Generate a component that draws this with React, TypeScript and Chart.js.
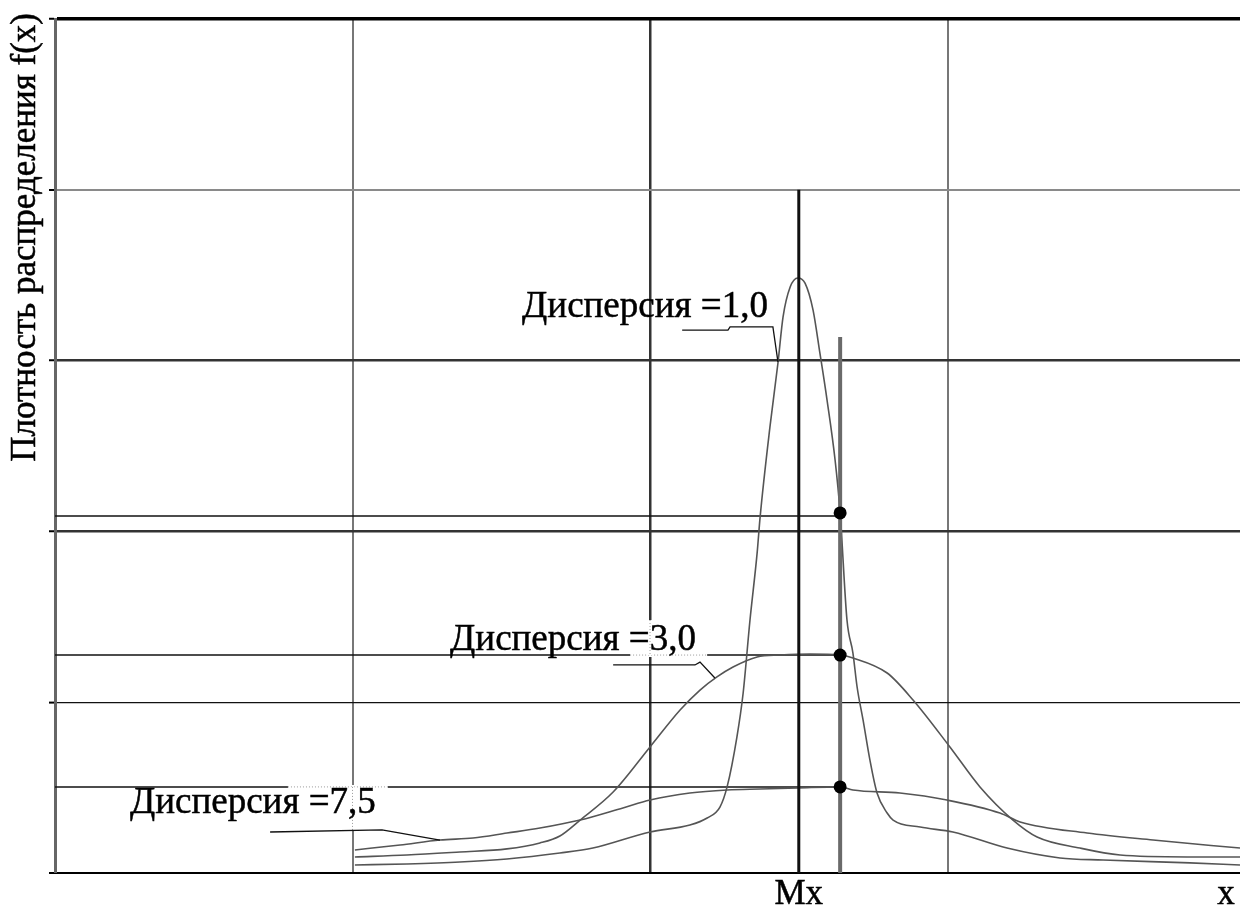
import React, { useEffect, useRef } from "react";
import { Chart, registerables } from "chart.js";

Chart.register(...registerables);

// ---- axis ranges and grid ----
const X_MIN = 0;
const X_MAX = 3.983;
const Y_MIN = 0;
const Y_MAX = 5;
const X_GRID = [0, 1, 2, 3];
const X_GRID_COLORS = ["rgba(0,0,0,0)", "#777777", "#333333", "#777777"];
const X_GRID_WIDTHS = [0, 2, 2.5, 2];
const Y_GRID_COLORS = ["rgba(0,0,0,0)", "#111111", "#333333", "#333333", "#8a8a8a", "#000000"];
const Y_GRID_WIDTHS = [0, 1.2, 2.5, 2.5, 2, 3.5];

// ---- curve: Дисперсия = 1,0 ----
const curve1X = [1.008, 1.183, 1.361, 1.519, 1.697, 1.808, 2.0, 2.134, 2.192, 2.235, 2.259, 2.292, 2.313, 2.336, 2.36, 2.37, 2.403, 2.43, 2.447, 2.471, 2.497, 2.521, 2.548, 2.571, 2.595, 2.622, 2.639, 2.662, 2.682, 2.696, 2.716, 2.739, 2.763, 2.797, 2.817, 2.908, 3.018, 3.2, 3.378, 3.523, 3.815, 3.983];
const curve1Y = [0.047, 0.053, 0.064, 0.082, 0.117, 0.146, 0.24, 0.281, 0.322, 0.386, 0.504, 0.796, 1.054, 1.481, 1.874, 2.084, 2.611, 2.986, 3.255, 3.431, 3.484, 3.454, 3.296, 3.044, 2.769, 2.418, 2.108, 1.481, 1.288, 1.089, 0.896, 0.662, 0.468, 0.351, 0.31, 0.269, 0.24, 0.146, 0.088, 0.076, 0.059, 0.047];

// ---- curve: Дисперсия = 3,0 ----
const curve3X = [1.008, 1.183, 1.361, 1.519, 1.63, 1.697, 1.765, 1.876, 2.0, 2.101, 2.168, 2.225, 2.279, 2.36, 2.437, 2.538, 2.639, 2.682, 2.797, 2.884, 3.008, 3.109, 3.22, 3.301, 3.445, 3.58, 3.805, 3.983];
const curve3Y = [0.094, 0.105, 0.123, 0.141, 0.176, 0.217, 0.31, 0.474, 0.738, 0.954, 1.071, 1.148, 1.206, 1.265, 1.276, 1.282, 1.276, 1.259, 1.171, 1.013, 0.738, 0.504, 0.31, 0.211, 0.146, 0.105, 0.094, 0.094];

// ---- curve: Дисперсия = 7,5 ----
const curve75X = [1.008, 1.16, 1.294, 1.405, 1.519, 1.63, 1.765, 1.909, 2.0, 2.134, 2.259, 2.37, 2.497, 2.639, 2.682, 2.84, 2.998, 3.176, 3.244, 3.469, 3.691, 3.983];
const curve75Y = [0.135, 0.164, 0.193, 0.205, 0.234, 0.263, 0.31, 0.381, 0.427, 0.468, 0.486, 0.492, 0.498, 0.504, 0.486, 0.468, 0.427, 0.351, 0.299, 0.234, 0.193, 0.146];

// ---- reference lines and markers ----
const MX_VALUE = 2.5;
const MX_TOP = 4.0;
const MARKER_X = 2.639;
const MARKER_TOP = 3.138;
const LEVEL_LINES = [2.09, 1.276, 0.504];
const DOT_VALUES = [2.108, 1.276, 0.504];

// ---- annotation labels ----
const LABEL_TEXTS = ["Дисперсия =1,0", "Дисперсия =3,0", "Дисперсия =7,5"];
const LABEL_X = [1.57, 1.328, 0.252];
const LABEL_Y = [3.255, 1.306, 0.351];
const LEADER1_X = [2.108, 2.262, 2.269, 2.413, 2.43];
const LEADER1_Y = [3.179, 3.179, 3.197, 3.197, 2.992];
const LEADER2_X = [1.876, 2.151, 2.168, 2.218];
const LEADER2_Y = [1.218, 1.218, 1.235, 1.142];
const LEADER3_X = [0.723, 1.099, 1.294];
const LEADER3_Y = [0.24, 0.252, 0.193];

// label selection-frame remnants (dotted segments over lines)
const DOTTED_SEG_X1 = [1.933, 2.0, 0.783, 1.0];
const DOTTED_SEG_Y1 = [1.276, 1.481, 0.504, 0.504];
const DOTTED_SEG_X2 = [2.192, 2.0, 1.119, 1.0];
const DOTTED_SEG_Y2 = [1.276, 1.276, 0.504, 0.252];

const Y_TITLE = "Плотность распределения f(x)";
const X_LABELS = ["Mx", "x"];
const X_LABEL_VALUES = [2.5, 3.936];

const FONT = '"Liberation Serif", "Times New Roman", serif';

const zip = (xs: number[], ys: number[]) => xs.map((x, i) => ({ x, y: ys[i] }));

const drawText = (ctx: any, t: string, x: number, y: number) => {
  ctx.fillText(t, x, y);
  ctx.strokeText(t, x, y);
};

const annotationPlugin = {
  id: "annotations",
  afterDatasetsDraw(chart: any) {
    const { ctx, scales, chartArea } = chart;
    const sx = (v: number) => scales.x.getPixelForValue(v);
    const sy = (v: number) => scales.y.getPixelForValue(v);
    ctx.save();

    // dotted selection-frame remnants
    for (let i = 0; i < DOTTED_SEG_X1.length; i++) {
      ctx.beginPath();
      ctx.strokeStyle = "#ffffff";
      ctx.lineWidth = 4;
      ctx.moveTo(sx(DOTTED_SEG_X1[i]), sy(DOTTED_SEG_Y1[i]));
      ctx.lineTo(sx(DOTTED_SEG_X2[i]), sy(DOTTED_SEG_Y2[i]));
      ctx.stroke();
      ctx.beginPath();
      ctx.setLineDash([1, 2]);
      ctx.strokeStyle = "#9a9a9a";
      ctx.lineWidth = 1;
      ctx.moveTo(sx(DOTTED_SEG_X1[i]), sy(DOTTED_SEG_Y1[i]));
      ctx.lineTo(sx(DOTTED_SEG_X2[i]), sy(DOTTED_SEG_Y2[i]));
      ctx.stroke();
      ctx.setLineDash([]);
    }

    // leader lines
    const leaders: [number[], number[]][] = [
      [LEADER1_X, LEADER1_Y],
      [LEADER2_X, LEADER2_Y],
      [LEADER3_X, LEADER3_Y],
    ];
    ctx.strokeStyle = "#111111";
    ctx.lineWidth = 1.3;
    for (const [lx, ly] of leaders) {
      ctx.beginPath();
      lx.forEach((v, i) => {
        if (i === 0) ctx.moveTo(sx(v), sy(ly[i]));
        else ctx.lineTo(sx(v), sy(ly[i]));
      });
      ctx.stroke();
    }

    // labels
    ctx.fillStyle = "#000000";
    ctx.strokeStyle = "#000000";
    ctx.lineWidth = 0.5;
    ctx.font = `37px ${FONT}`;
    ctx.textAlign = "left";
    ctx.textBaseline = "alphabetic";
    LABEL_TEXTS.forEach((t, i) => {
      drawText(ctx, t, sx(LABEL_X[i]), sy(LABEL_Y[i]));
    });

    // x-axis labels
    ctx.font = `35px ${FONT}`;
    ctx.textAlign = "center";
    X_LABELS.forEach((t, i) => {
      drawText(ctx, t, sx(X_LABEL_VALUES[i]), chartArea.bottom + 31);
    });

    // y title
    ctx.font = `35px ${FONT}`;
    ctx.translate(35, chartArea.top - 6);
    ctx.rotate(-Math.PI / 2);
    ctx.textAlign = "right";
    ctx.textBaseline = "alphabetic";
    drawText(ctx, Y_TITLE, 0, 0);
    ctx.restore();
  },
};

export default function App() {
  const canvasRef = useRef<HTMLCanvasElement | null>(null);

  useEffect(() => {
    if (!canvasRef.current) return;
    const curveStyle = {
      showLine: true,
      borderColor: "#555555",
      borderWidth: 1.6,
      pointRadius: 0,
      fill: false,
      cubicInterpolationMode: "monotone" as const,
    };
    const plainLine = (data: any[], color: string, width: number, order: number) => ({
      data,
      showLine: true,
      borderColor: color,
      borderWidth: width,
      pointRadius: 0,
      fill: false,
      order,
    });

    const datasets: any[] = [
      ...LEVEL_LINES.map((v) =>
        plainLine([{ x: X_MIN, y: v }, { x: MARKER_X, y: v }], "#111111", 1.5, 5)
      ),
      { label: LABEL_TEXTS[0], data: zip(curve1X, curve1Y), ...curveStyle, order: 3 },
      { label: LABEL_TEXTS[1], data: zip(curve3X, curve3Y), ...curveStyle, order: 3 },
      { label: LABEL_TEXTS[2], data: zip(curve75X, curve75Y), ...curveStyle, order: 3 },
      plainLine([{ x: MX_VALUE, y: 0 }, { x: MX_VALUE, y: MX_TOP }], "#111111", 3, 2),
      plainLine([{ x: MARKER_X, y: 0 }, { x: MARKER_X, y: MARKER_TOP }], "#6a6a6a", 4, 2),
      {
        data: DOT_VALUES.map((v) => ({ x: MARKER_X, y: v })),
        showLine: false,
        pointRadius: 6.5,
        pointBackgroundColor: "#000000",
        pointBorderColor: "#000000",
        pointBorderWidth: 0,
        order: 0,
      },
    ];

    const chart = new Chart(canvasRef.current, {
      type: "scatter",
      data: { datasets },
      options: {
        animation: false,
        responsive: true,
        maintainAspectRatio: false,
        devicePixelRatio: 1,
        layout: { autoPadding: false, padding: { top: 19, right: 0, left: 0, bottom: 0 } },
        plugins: {
          legend: { display: false },
          tooltip: { enabled: false },
          title: { display: false },
        },
        events: [],
        scales: {
          x: {
            type: "linear",
            min: X_MIN,
            max: X_MAX,
            afterBuildTicks: (scale: any) => {
              scale.ticks = X_GRID.map((v) => ({ value: v }));
            },
            afterFit: (scale: any) => {
              scale.height = 33;
            },
            ticks: { display: false },
            grid: {
              drawTicks: false,
              color: (c: any) => X_GRID_COLORS[X_GRID.indexOf(c.tick?.value)] ?? "rgba(0,0,0,0)",
              lineWidth: (c: any) => X_GRID_WIDTHS[X_GRID.indexOf(c.tick?.value)] ?? 0,
            },
            border: { display: true, color: "#000000", width: 2 },
          },
          y: {
            type: "linear",
            min: Y_MIN,
            max: Y_MAX,
            ticks: { display: false, stepSize: 1 },
            afterFit: (scale: any) => {
              scale.width = 55;
            },
            grid: {
              drawTicks: true,
              tickLength: 6,
              tickWidth: 2,
              tickColor: "#000000",
              color: (c: any) => Y_GRID_COLORS[Math.round(c.tick?.value ?? -1)] ?? "rgba(0,0,0,0)",
              lineWidth: (c: any) => Y_GRID_WIDTHS[Math.round(c.tick?.value ?? -1)] ?? 0,
            },
            border: { display: true, color: "#666666", width: 3 },
          },
        },
      },
      plugins: [annotationPlugin],
    });
    return () => chart.destroy();
  }, []);

  return (
    <div
      style={{
        position: "absolute",
        left: 0,
        top: 0,
        width: 1240,
        height: 906,
        background: "#ffffff",
      }}
    >
      <canvas ref={canvasRef} />
    </div>
  );
}
